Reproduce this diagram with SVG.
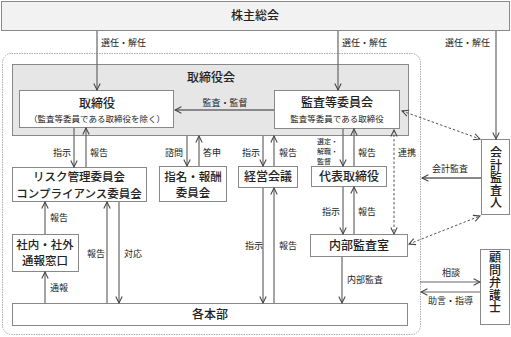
<svg xmlns="http://www.w3.org/2000/svg" width="511" height="337" viewBox="0 0 511 337">
<defs>
<marker id="ah" viewBox="0 0 10 10" refX="9" refY="5" markerWidth="8" markerHeight="8" orient="auto-start-reverse" markerUnits="userSpaceOnUse">
<path d="M1,1 L9,5 L1,9" fill="none" stroke="#444" stroke-width="1.3"/>
</marker>
<style>
text{font-family:"Noto Sans CJK JP","Noto Sans",sans-serif;fill:#222}
.t{font-size:12px;text-anchor:middle;font-weight:500}
.t2{font-size:11.5px;text-anchor:middle;font-weight:500}
.v{font-size:12px;text-anchor:middle;font-weight:500;writing-mode:vertical-rl;letter-spacing:0.5px}
.s{font-size:8.5px;text-anchor:middle}
.l{font-size:9px}
.xs{font-size:7px}
.box{fill:#fff;stroke:#888;stroke-width:1}
.ln{fill:none;stroke:#666;stroke-width:1.2}
.thk{fill:none;stroke:#888;stroke-width:2}
.dsh{fill:none;stroke:#555;stroke-width:1;stroke-dasharray:2.5,2}
</style>
</defs>
<rect width="511" height="337" fill="#fff"/>
<rect x="2.5" y="53.5" width="418" height="281" rx="9" fill="none" stroke="#aaa" stroke-width="1" stroke-dasharray="1.5,1"/>

<g id="kabunushi"><rect x="1.5" y="1.5" width="508" height="29" fill="#f2f2f2" stroke="#888"/><text class="t" x="255" y="20">株主総会</text></g>
<g id="torishimariyakukai"><rect x="12.5" y="64.5" width="396" height="71" fill="#e6e6e6" stroke="#888"/><text class="t" x="211" y="82">取締役会</text></g>
<g id="torishimariyaku"><rect class="box" x="19.5" y="90.5" width="154" height="37"/><text class="t" x="97" y="108">取締役</text><text class="s" x="97" y="122">（監査等委員である取締役を除く）</text></g>
<g id="kansatou"><rect class="box" x="274.5" y="90.5" width="125" height="38"/><text class="t" x="337" y="107">監査等委員会</text><text class="s" x="337" y="122">監査等委員である取締役</text></g>
<g id="risk"><rect class="box" x="12.5" y="167.5" width="134" height="34"/><text class="t2" x="79" y="181">リスク管理委員会</text><text class="t2" x="79" y="197.5">コンプライアンス委員会</text></g>
<g id="shimei"><rect class="box" x="159.5" y="166.5" width="67" height="35"/><text class="t2" x="193" y="180.5">指名・報酬</text><text class="t2" x="193" y="197">委員会</text></g>
<g id="keiei"><rect class="box" x="238.5" y="166.5" width="59" height="21"/><text class="t" x="268" y="181">経営会議</text></g>
<g id="daihyou"><rect class="box" x="311.5" y="166.5" width="75" height="20"/><text class="t" x="349" y="181">代表取締役</text></g>
<g id="tsuuhou"><rect class="box" x="12.5" y="234.5" width="66" height="37"/><text class="t2" x="45" y="248.5">社内・社外</text><text class="t2" x="45" y="265">通報窓口</text></g>
<g id="naibu"><rect class="box" x="310.5" y="234.5" width="97" height="22"/><text class="t" x="359" y="250">内部監査室</text></g>
<g id="kakuhonbu"><rect class="box" x="12.5" y="303.5" width="395" height="22"/><text class="t" x="210" y="319">各本部</text></g>
<g id="kaikei"><rect class="box" x="481.5" y="139.5" width="28" height="75"/><text class="v" x="496" y="178">会計監査人</text></g>
<g id="bengoshi"><rect class="box" x="480.5" y="249.5" width="29" height="75"/><text class="v" x="495" y="283">顧問弁護士</text></g>

<g id="connectors">
<line class="ln" x1="97" y1="31" x2="97" y2="90" marker-end="url(#ah)"/>
<line class="ln" x1="338" y1="31" x2="338" y2="90" marker-end="url(#ah)"/>
<line class="ln" x1="496" y1="31" x2="496" y2="139" marker-end="url(#ah)"/>
<line class="thk" x1="274" y1="110" x2="175" y2="110" marker-end="url(#ah)"/>
<line class="ln" x1="74" y1="128" x2="74" y2="167" marker-end="url(#ah)"/>
<line class="ln" x1="86" y1="167" x2="86" y2="128" marker-end="url(#ah)"/>
<line class="ln" x1="187" y1="136" x2="187" y2="166" marker-end="url(#ah)"/>
<line class="ln" x1="199" y1="166" x2="199" y2="136" marker-end="url(#ah)"/>
<line class="ln" x1="263" y1="136" x2="263" y2="166" marker-end="url(#ah)"/>
<line class="ln" x1="274" y1="166" x2="274" y2="136" marker-end="url(#ah)"/>
<line class="ln" x1="343" y1="129" x2="343" y2="166" marker-end="url(#ah)"/>
<line class="ln" x1="354" y1="166" x2="354" y2="129" marker-end="url(#ah)"/>
<line class="dsh" x1="394" y1="130" x2="394" y2="234" marker-start="url(#ah)" marker-end="url(#ah)"/>
<line class="dsh" x1="402" y1="111" x2="480" y2="139" marker-start="url(#ah)" marker-end="url(#ah)"/>
<line class="dsh" x1="409" y1="244" x2="480" y2="216" marker-start="url(#ah)" marker-end="url(#ah)"/>
<line class="thk" x1="481" y1="178" x2="422" y2="178" marker-end="url(#ah)"/>
<line class="ln" x1="343" y1="187" x2="343" y2="234" marker-end="url(#ah)"/>
<line class="ln" x1="354" y1="234" x2="354" y2="187" marker-end="url(#ah)"/>
<line class="ln" x1="342" y1="257" x2="342" y2="303" marker-end="url(#ah)"/>
<line class="ln" x1="263" y1="188" x2="263" y2="303" marker-end="url(#ah)"/>
<line class="ln" x1="274" y1="303" x2="274" y2="188" marker-end="url(#ah)"/>
<line class="ln" x1="107" y1="303" x2="107" y2="202" marker-end="url(#ah)"/>
<line class="ln" x1="119" y1="202" x2="119" y2="303" marker-end="url(#ah)"/>
<line class="ln" x1="45" y1="234" x2="45" y2="202" marker-end="url(#ah)"/>
<line class="ln" x1="45" y1="303" x2="45" y2="272" marker-end="url(#ah)"/>
<line class="ln" x1="420" y1="282" x2="480" y2="282" marker-end="url(#ah)"/>
<line class="ln" x1="480" y1="292" x2="421" y2="292" marker-end="url(#ah)"/>
</g>

<g id="labels">
<text class="l" x="101" y="46">選任・解任</text>
<text class="l" x="342" y="46">選任・解任</text>
<text class="l" x="445" y="46">選任・解任</text>
<text class="l" x="225" y="106" text-anchor="middle">監査・監督</text>
<text class="l" x="53" y="156">指示</text>
<text class="l" x="90" y="156">報告</text>
<text class="l" x="165" y="156">諮問</text>
<text class="l" x="203" y="156">答申</text>
<text class="l" x="242" y="156">指示</text>
<text class="l" x="279" y="156">報告</text>
<text class="xs" x="317" y="144">選定・</text>
<text class="xs" x="317" y="154">解職・</text>
<text class="xs" x="317" y="164">監督</text>
<text class="l" x="358" y="156">報告</text>
<text class="l" x="398" y="156">連携</text>
<text class="l" x="432" y="172">会計監査</text>
<text class="l" x="50" y="221">報告</text>
<text class="l" x="322" y="215">指示</text>
<text class="l" x="358" y="215">報告</text>
<text class="l" x="245" y="249">指示</text>
<text class="l" x="279" y="249">報告</text>
<text class="l" x="87" y="257">報告</text>
<text class="l" x="124" y="257">対応</text>
<text class="l" x="347" y="283">内部監査</text>
<text class="l" x="442" y="276">相談</text>
<text class="l" x="428" y="304">助言・指導</text>
<text class="l" x="50" y="291">通報</text>
</g>
</svg>
